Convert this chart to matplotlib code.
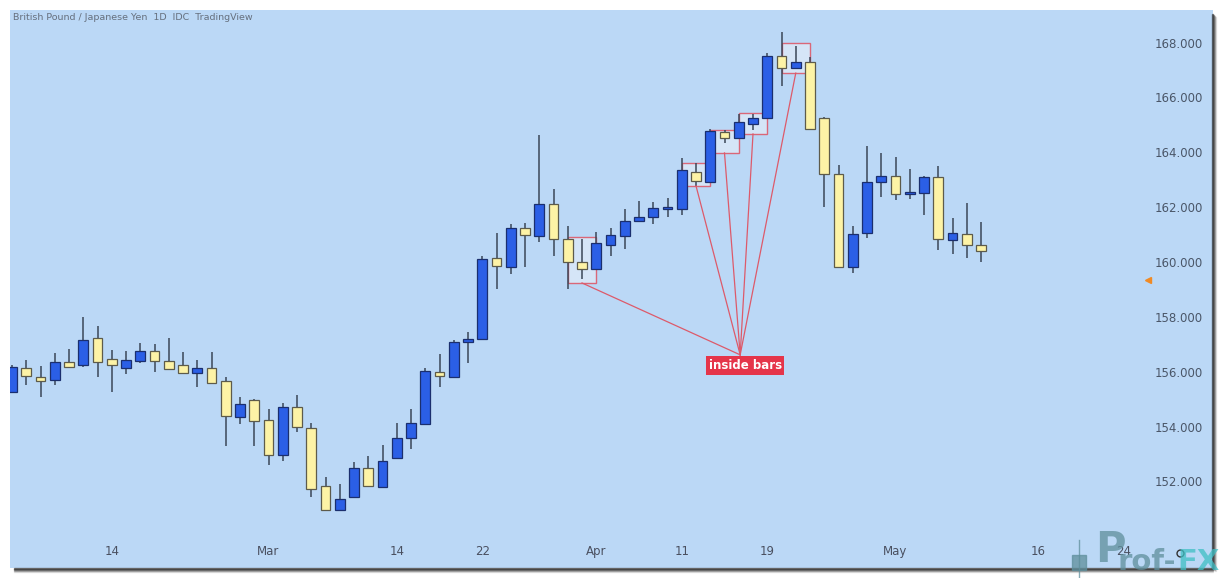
import matplotlib
matplotlib.use("Agg")
import matplotlib.pyplot as plt
from matplotlib.patches import Rectangle
from matplotlib.lines import Line2D
import pandas as pd
import numpy as np

# ---------------- data ----------------
start_date = "2022-02-03"
opens  = [155.33,156.20,155.85,155.76,156.40,156.30,157.27,156.53,156.18,156.46,
          156.82,156.44,156.29,156.01,156.19,155.72,154.39,155.03,154.30,153.02,
          154.76,153.99,151.90,151.02,151.49,152.55,151.87,152.92,153.65,154.15,
          156.06,155.88,157.14,157.24,160.19,159.86,161.28,161.01,162.17,160.90,
          160.06,159.81,160.67,161.00,161.56,161.71,162.00,162.00,163.35,162.98,
          164.78,164.56,165.10,165.29,167.57,167.11,167.33,165.29,163.26,159.88,
          161.10,162.96,163.19,162.52,162.58,163.14,160.86,161.08,160.67]
highs  = [156.30,156.47,156.27,156.73,156.87,158.06,157.73,156.85,156.82,157.11,
          157.06,157.27,156.76,156.48,156.78,155.88,155.15,155.05,154.69,154.93,
          155.21,154.20,152.21,151.98,152.77,152.99,153.39,154.20,154.69,156.18,
          156.69,157.21,157.49,160.28,161.10,161.43,161.47,164.68,162.70,161.37,
          160.88,161.16,161.31,161.98,162.29,162.25,162.38,163.83,163.65,164.90,
          164.87,165.45,165.45,167.66,168.43,167.94,167.54,165.33,163.59,161.38,
          164.28,164.02,163.89,163.43,163.20,163.57,161.65,162.19,161.52]
lows   = [155.30,155.57,155.15,155.57,156.20,156.24,155.88,155.31,155.97,156.36,
          156.06,156.12,155.98,155.51,155.64,153.36,154.15,153.36,152.67,152.80,
          153.87,151.48,151.00,151.00,151.44,151.88,151.85,152.90,153.23,154.10,
          155.48,155.86,156.36,157.22,159.06,159.61,159.86,160.80,160.27,159.06,
          159.45,159.79,160.27,160.53,161.54,161.43,161.68,161.76,162.83,162.95,
          164.40,164.54,164.87,165.27,166.47,167.09,164.87,162.07,159.84,159.64,
          160.92,162.44,162.31,162.35,161.77,160.49,160.34,160.21,160.07]
closes = [156.24,155.89,155.71,156.41,156.23,157.21,156.40,156.29,156.47,156.81,
          156.46,156.15,156.00,156.18,155.66,154.45,154.88,154.25,153.02,154.76,
          154.03,151.77,151.02,151.43,152.55,151.90,152.80,153.65,154.18,156.08,
          155.91,157.13,157.25,160.16,159.90,161.28,161.03,162.17,160.88,160.04,
          159.79,160.76,161.04,161.54,161.71,162.03,162.02,163.41,163.01,164.83,
          164.56,165.15,165.31,167.57,167.11,167.35,164.90,163.26,159.86,161.08,
          162.96,163.19,162.52,162.62,163.14,160.88,161.10,160.67,160.46]

# x-axis tick labels (dates) and their texts
tick_dates  = ["2022-02-14","2022-03-01","2022-03-14","2022-03-22","2022-04-01",
               "2022-04-11","2022-04-19","2022-05-02","2022-05-16","2022-05-24"]
tick_labels = ["14","Mar","14","22","Apr","11","19","May","16","24"]
price_ticks = [152,154,156,158,160,162,164,166,168]

# inside-bar annotations: (mother bar index, box top, box bottom)
inside_mother = [39, 47, 49, 51, 54]
inside_top    = [160.97, 163.66, 164.87, 165.49, 168.04]
inside_bottom = [159.29, 162.83, 164.03, 164.72, 166.94]
label_text = "inside bars"
label_anchor = (51.1, 156.67)
current_price = 159.40

title = "British Pound / Japanese Yen  1D  IDC  TradingView"

# ---------------- figure ----------------
W, H = 1221, 578
fig = plt.figure(figsize=(W/100, H/100), dpi=100)
fig.patch.set_facecolor("white")

# shadow behind panel
for k, a in enumerate([0.55, 0.35, 0.2, 0.1]):
    fig.patches.append(Rectangle(((1212+k)/W, (10-k)/H), 1/W, (554)/H,
                                 transform=fig.transFigure, color="#222222",
                                 alpha=a, zorder=0))
    fig.patches.append(Rectangle((14/W, (9-k)/H), (1199)/W, 1/H,
                                 transform=fig.transFigure, color="#222222",
                                 alpha=a, zorder=0))

ax = fig.add_axes([10/W, 10/H, 1203/W, 558/H])
bg = "#bbd8f6"
ax.set_facecolor(bg)
for s in ax.spines.values():
    s.set_visible(False)

X0, S = 12.0, 14.25
ax.set_xlim((10 - X0)/S, (1213 - X0)/S)
ax.set_ylim(148.90, 169.24)
ax.set_xticks([]); ax.set_yticks([])

n = len(opens)
idx = np.arange(n)
o = np.array(opens); c = np.array(closes); h = np.array(highs); l = np.array(lows)
up = c >= o
blue, yellow = "#2b5fe6", "#fdf3a6"
blue_edge, yellow_edge = "#1b2f6e", "#5d5b4b"
wick_col = "#3b4657"

ax.vlines(idx, l, h, color=wick_col, lw=1.1, zorder=2)
body_bottom = np.minimum(o, c)
body_h = np.maximum(np.abs(c - o), 0.07)
ax.bar(idx[up], body_h[up], bottom=body_bottom[up], width=0.68,
       color=blue, edgecolor=blue_edge, linewidth=0.9, zorder=3)
ax.bar(idx[~up], body_h[~up], bottom=body_bottom[~up], width=0.68,
       color=yellow, edgecolor=yellow_edge, linewidth=0.9, zorder=3)

# inside-bar boxes and connector lines
red = "#dd5a6a"
for m, t, b in zip(inside_mother, inside_top, inside_bottom):
    ax.add_patch(Rectangle((m, b), 2.0, t - b, facecolor="#d9e7f8",
                           edgecolor=red, lw=1.0, alpha=0.9, zorder=1))
    ax.plot([m + 1, label_anchor[0]], [b, label_anchor[1]], color=red,
            lw=0.9, zorder=4)
ax.text(label_anchor[0] + 0.35, label_anchor[1] - 0.39, label_text,
        ha="center", va="center", color="white", fontsize=8.5,
        fontweight="bold", zorder=6,
        bbox=dict(boxstyle="square,pad=0.22", fc="#e5354a", ec="none"))

# price labels on the right
for p in price_ticks:
    ax.text(0.9915, p, f"{p:.3f}", transform=ax.get_yaxis_transform(),
            ha="right", va="center", fontsize=8.5, color="#4a5668")
ax.plot([(1148 - X0)/S], [current_price], marker="<", color="#f08a24",
        markersize=4.5, zorder=5)

# date labels
dates = pd.bdate_range(start_date, periods=90)
date_index = {d.strftime("%Y-%m-%d"): i for i, d in enumerate(dates)}
for d, lab in zip(tick_dates, tick_labels):
    ax.text(date_index[d], 0.030, lab, transform=ax.get_xaxis_transform(),
            ha="center", va="center", fontsize=8.5, color="#4a5060",
            family=["Liberation Sans Narrow", "DejaVu Sans"])

# title
ax.text(3/1203, 1 - 7/558, title, transform=ax.transAxes, ha="left",
        va="center", fontsize=6.8, color="#66707e")

# settings circle (marker, not text)
fig.lines.append(Line2D([1180/W], [1 - 553/H], transform=fig.transFigure,
                        marker="o", markersize=5, markerfacecolor="none",
                        markeredgecolor="#333333", linestyle="none"))

# watermark logo
fig.text(1095/W, 1 - 550/H, "P", ha="left", va="center", fontsize=30,
         fontweight="bold", color="#5f8f9c", alpha=0.75)
fig.text(1117/W, 1 - 562/H, "rof-", ha="left", va="center", fontsize=21,
         fontweight="bold", color="#5f8f9c", alpha=0.75)
fig.text(1177/W, 1 - 562/H, "FX", ha="left", va="center", fontsize=21,
         fontweight="bold", color="#3fbfc4", alpha=0.75)
fig.patches.append(Rectangle((1072/W, 1 - 570/H), 14/W, 15/H,
                             transform=fig.transFigure, color="#5f8f9c",
                             alpha=0.75))
fig.lines.append(Line2D([1079/W, 1079/W], [1 - 578/H, 1 - 540/H],
                        transform=fig.transFigure, color="#5f8f9c",
                        alpha=0.75, lw=1))

fig.savefig("out.png", dpi=100, facecolor="white")
